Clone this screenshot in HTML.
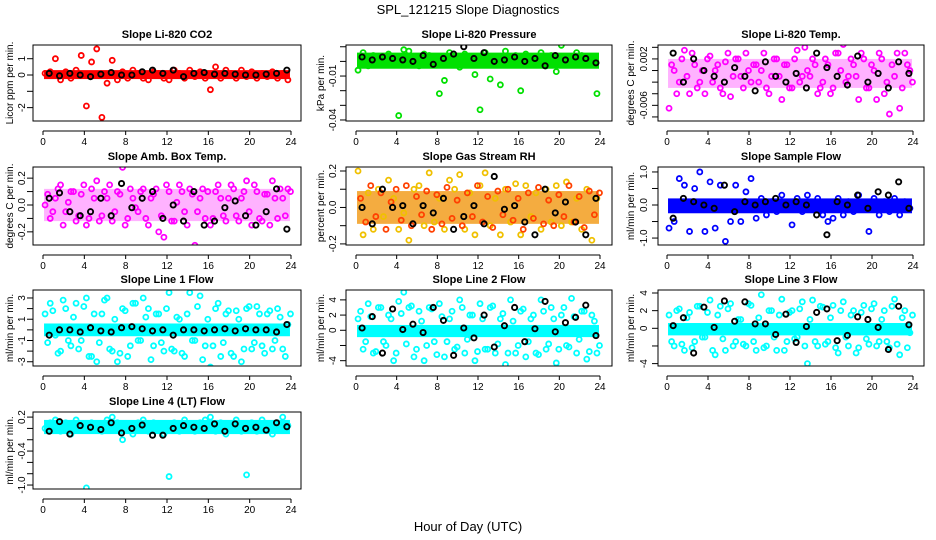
<!DOCTYPE html>
<html><head><meta charset="utf-8"><style>
html,body{margin:0;padding:0;background:#fff}
svg{display:block;font-family:"Liberation Sans",sans-serif}
</style></head><body>
<svg id="chart" width="936" height="540" viewBox="0 0 936 540">
<text x="468" y="14" text-anchor="middle" font-size="13">SPL_121215  Slope Diagnostics</text>
<text x="468" y="531" text-anchor="middle" font-size="13">Hour of Day (UTC)</text>
</svg>
<script>
const hoursC = [0.2,0.7,1.2,1.7,2.2,2.7,3.2,3.7,4.2,4.7,5.2,5.7,6.2,6.7,7.2,7.7,8.2,8.7,9.2,9.7,10.2,10.7,11.2,11.7,12.2,12.7,13.2,13.7,14.2,14.7,15.2,15.7,16.2,16.7,17.2,17.7,18.2,18.7,19.2,19.7,20.2,20.7,21.2,21.7,22.2,22.7,23.2,23.7];
const hoursC2 = [0.45,0.95,1.45,1.95,2.45,2.95,3.45,3.95,4.45,4.95,5.45,5.95,6.45,6.95,7.45,7.95,8.45,8.95,9.45,9.95,10.45,10.95,11.45,11.95,12.45,12.95,13.45,13.95,14.45,14.95,15.45,15.95,16.45,16.95,17.45,17.95,18.45,18.95,19.45,19.95,20.45,20.95,21.45,21.95,22.45,22.95,23.45,23.95];
const hoursK = [0.6,1.6,2.6,3.6,4.6,5.6,6.6,7.6,8.6,9.6,10.6,11.6,12.6,13.6,14.6,15.6,16.6,17.6,18.6,19.6,20.6,21.6,22.6,23.6];
const xTicks = [0,4,8,12,16,20,24];

const co2Vals = [0.1,0.2,1.0,-0.3,0.2,-0.2,0.3,1.2,-1.9,0.8,1.6,-2.6,-0.5,0.9,-0.3,0.2,-0.2,0.3,0.1,-0.2,-0.3,0.2,0.1,-0.2,-0.3,0.3,0.1,-0.2,0.3,-0.1,0.2,-0.2,-0.9,0.5,-0.2,0.3,0.1,-0.2,0.3,-0.1,0.2,-0.2,0.1,-0.1,0.2,-0.2,0.1,-0.3];
const co2Black = [0.1,-0.05,0.1,0.0,-0.1,0.05,0.15,0.0,0.0,0.2,0.3,0.1,0.3,-0.1,0.1,0.15,0.05,0.1,0.05,0.0,0.0,0.05,0.1,0.3];
const co2Band = [-0.25,0.3];

const presVals = [-0.006,0.006,-0.003,0.004,0.0,-0.002,0.005,0.003,-0.037,0.008,0.007,0.002,-0.003,0.005,0.004,0.0,-0.022,-0.013,0.006,0.002,-0.004,0.005,0.0,-0.009,-0.033,0.006,-0.012,0.003,-0.016,0.007,0.0,0.004,-0.020,0.005,-0.002,0.003,0.006,-0.003,0.004,-0.007,0.011,0.003,-0.002,0.006,0.004,0.001,0.003,-0.022];
const presBlack = [0.003,0.001,0.003,0.002,0.001,0.0,0.004,-0.002,0.002,0.005,0.010,0.002,0.006,0.0,0.001,0.003,0.0,0.002,-0.003,0.004,0.001,0.003,0.002,-0.001];
const presBand = [-0.005,0.006];

const tempVals = [-0.0065,0,-0.002,0.0035,-0.004,0.001,-0.002,-0.004,0.0025,0,-0.003,0.0015,-0.0045,0.002,-0.001,0.003,-0.002,0.001,0,-0.003,-0.001,0.002,-0.005,0.001,-0.003,0.0035,-0.001,0,0.002,-0.004,-0.002,0.001,-0.003,0.003,0.0045,-0.001,0.001,-0.005,0.002,-0.003,0,0.003,-0.004,-0.0075,-0.001,-0.0065,0.003,0];
const tempVals2 = [0.001,-0.004,0.002,-0.001,0.003,-0.003,0,0.002,-0.002,0.001,-0.004,0.003,-0.001,0.002,-0.003,0,0.001,-0.002,0.003,-0.004,0.002,-0.001,0.001,-0.003,0.002,-0.002,0.004,-0.001,0.001,-0.003,0.002,-0.004,0.003,0,-0.002,0.002,-0.001,0.003,-0.003,0.001,-0.005,0.002,-0.002,0.001,0.003,-0.003,0.001,-0.002];
const tempBlack = [0.003,-0.002,0.002,0,-0.001,-0.002,0.0005,-0.001,-0.0035,0.0015,-0.001,-0.002,-0.0005,-0.003,0.003,0.0005,-0.001,-0.0025,0.0025,-0.002,-0.0005,-0.003,0.0015,-0.0005];
const tempBand = [-0.003,0.002];

const ambVals = [0,-0.10,0.05,0.15,-0.05,0.10,-0.12,0.08,-0.15,0.12,0.18,-0.08,0.05,-0.12,0.10,0.28,-0.10,0.05,-0.05,0.12,-0.15,0.08,-0.20,-0.24,0.10,-0.12,0.15,-0.05,0.12,-0.30,0.05,-0.10,-0.15,0.10,0.05,-0.12,0.15,-0.08,0.05,0.18,-0.15,0.10,-0.12,0.08,0.18,-0.10,0.05,0.12];
const ambVals2 = [0.08,-0.05,0.12,-0.15,0.02,0.1,-0.08,0.15,-0.1,0.05,-0.12,0.1,0.15,-0.05,0.08,-0.15,0.12,-0.02,0.1,-0.1,0.05,0.12,-0.08,0.15,-0.12,0.02,0.1,-0.15,0.08,-0.05,0.12,0.1,-0.1,0.15,-0.08,0.05,0.12,-0.12,0.1,-0.05,0.15,-0.1,0.08,-0.15,0.05,0.12,-0.08,0.1];
const ambBlack = [0.05,0.09,-0.05,-0.08,-0.05,0.05,-0.08,0.16,-0.02,0.05,0.10,-0.10,0.0,-0.12,0.10,-0.15,-0.12,-0.02,0.03,-0.08,-0.15,-0.05,0.12,-0.18];
const ambBand = [-0.12,0.12];

const rhVals = [0.20,-0.15,0.08,-0.12,0.10,-0.05,0.15,0.05,-0.12,-0.03,-0.18,0.10,0.12,-0.10,0.19,-0.08,0.05,-0.12,0.15,0.10,0.18,-0.12,0.08,-0.15,0.12,0.19,-0.10,0.05,-0.15,0.10,-0.08,0.13,-0.15,0.12,-0.05,0.08,-0.12,0.10,-0.08,0.12,-0.10,0.14,-0.08,0.05,-0.12,0.10,-0.18,0.05];
const rhVals2 = [0.05,-0.08,0.12,-0.05,0.08,-0.12,0.03,0.1,-0.07,0.12,-0.1,0.06,-0.04,0.09,-0.12,0.07,-0.09,0.11,-0.06,0.04,-0.1,0.08,-0.05,0.12,-0.08,0.06,-0.11,0.09,-0.04,0.1,-0.07,0.05,-0.12,0.08,-0.06,0.11,-0.09,0.04,-0.1,0.07,-0.05,0.12,-0.08,0.06,-0.11,0.09,-0.04,0.08];
const rhBlack = [0.0,-0.09,0.10,0.0,0.01,-0.09,0.01,-0.03,0.05,-0.12,-0.05,0.01,-0.09,0.17,-0.01,0.01,-0.08,-0.15,0.10,-0.03,0.03,-0.08,-0.15,0.05];
const rhBand = [-0.09,0.09];

const sampVals = [-0.7,-0.5,0.8,0.6,-0.8,0.5,1.0,-0.8,0.7,-0.7,0.6,-1.1,-0.5,0.6,-0.5,0.4,0.8,-0.4,0.2,-0.3,0.1,-0.2,0.3,-0.1,-0.6,0.2,-0.2,0.3,-0.1,0.2,-0.3,-0.5,-0.4,0.2,-0.3,0.1,-0.2,0.3,-0.1,-0.8,0.2,-0.3,0.1,-0.2,0.2,-0.3,0.1,-0.1];
const sampBlack = [-0.4,0.2,0.1,0.0,-0.1,0.6,-0.2,0.1,0.0,0.1,0.2,0.0,0.1,0.0,-0.3,-0.9,0.1,0.0,0.3,-0.1,0.4,0.3,0.7,-0.1];
const sampBand = [-0.25,0.2];

const l1Vals = [1.5,2.5,-0.5,-2,2,-1.5,2.5,-1,3,-2.5,-3,1.5,3,-2,-3,2,-2.5,2.5,-1,3,2,-1.5,1.5,-2,3.5,-2,1,-2.5,3.5,-1,3.2,-1.5,-3.5,2,-2.5,1.5,-2.2,1.8,-3,2,-1.8,2.2,-1.5,1.5,-1.8,2,-1.8,0.5];
const l1Vals2 = [-1.2,1.8,-2.2,2.8,-1,1.2,-1.8,2.2,-2.5,1.5,-1.2,2.8,-1.8,1,-2.2,1.8,-1.5,2.5,-1,1.2,-2.8,1.5,-1.2,2,-1.8,1.2,-2.2,1.5,-1,2.2,-2.8,1,-1.5,2.5,-1.2,1.8,-2.5,1,-1.8,2.2,-1.2,1.5,-2.2,1.8,-1,1.2,-2.5,1.5];
const l1Black = [-0.5,0,0,-0.2,0.2,-0.1,-0.2,0.2,0.3,0.1,-0.1,0,-0.5,0,0,-0.1,0,0.1,-0.1,0.1,0,0,-0.2,0.5];
const l1Band = [-0.6,0.6];

const l2Vals = [1.5,-2.5,3.5,-3,3,-1.5,2,-4,3.8,5,3,-3.5,2.5,-4,3,-1.5,3.5,-3.5,1.5,-2.5,4,-3,2,-4,3.5,-2.5,3,-3,1.5,-4.5,4,-3,2.5,-3.5,1.5,-3,4,-2.5,3,-4.3,2,-2,4.2,-3,2.5,-3.8,2,-3];
const l2Vals2 = [2.5,-1.5,1.8,-2.8,3,-2,1.5,-3,2.2,-1.8,3.2,-2.5,1.2,-2,2.8,-3.2,1.8,-1.5,2.5,-2.2,3,-1.2,2,-2.8,1.5,-2.5,3.2,-1.8,2.2,-3,1.2,-2,2.8,-1.5,2,-3.2,2.5,-1.8,1.5,-2.5,3,-2.2,1.8,-1.2,2.5,-2.8,1.2,-2];
const l2Black = [0.3,1.8,-3,2.8,0.1,0.8,-0.3,3,1.3,-3.3,0.3,-1,2,-2.2,0.6,3,-1.5,0.2,3.8,-0.2,1,1.7,3.3,-0.7];
const l2Band = [-0.9,0.7];

const l3Vals = [1.5,-2,2.2,-2.5,1.8,-1.5,2.5,-1,3.2,-3,2.5,-2.5,2.8,-1.5,1,-2,2.6,-2.5,3.8,-2,2,-2.5,3.3,-1.5,2,-1,3,-4,3.2,-2,2.4,-1.5,2.6,-2.8,3,-2,2,-2.2,2.6,-1.8,2.8,-1.5,2,-2.2,3.3,-3,2,-0.5];
const l3Vals2 = [-1.5,2,-1.8,1.2,-2.2,2.5,-1,1.8,-2.5,1.5,-1.2,2.2,-2,1,-1.8,2.8,-1.5,1.2,-2.2,2,-1,1.5,-2.5,1.8,-1.2,2.2,-2,1,-1.5,2.5,-1.8,1.2,-2.2,2,-1,1.5,-2.8,1.8,-1.2,2.2,-2,1,-1.5,2.5,-1.8,1.2,-2.2,1.5];
const l3Black = [0.3,1.2,-2.8,2.4,0.1,3.1,0.8,3,0.5,0.5,-0.7,1.6,-1.6,0.2,1.8,2.2,-1.4,-0.8,1.3,1,0.1,-2.4,2.5,0.4];
const l3Band = [-0.8,0.6];

const l4Vals = [0,0.1,0.15,-0.05,0.1,-0.1,0.15,0.05,-1.05,0.1,0.05,-0.05,0.15,0.2,0.1,-0.2,0.05,-0.1,0.1,0.15,-0.05,0.1,0.05,-0.1,-0.85,0.1,-0.05,0.15,0.05,-0.05,0.1,0.15,0.2,-0.05,0.1,-0.1,0.05,0.15,-0.05,-0.82,0.1,-0.05,0.15,0.05,-0.1,0.1,0.2,0.05];
const l4Black = [-0.05,0.12,-0.1,0.05,0.02,-0.02,0.1,-0.08,0.0,0.06,-0.12,-0.12,0.0,0.05,0.02,0.0,0.08,-0.05,0.08,0.0,0.02,-0.03,0.1,0.03];
const l4Band = [-0.1,0.15];

const co2Ticks = [1,0,-1,-2], co2Labels = ["1","0","","-2"];
const presTicks = [0.01,0,-0.01,-0.02,-0.03,-0.04], presLabels = ["","","-0.01","","","-0.04"];
const tempTicks = [0.004,0.002,0,-0.002,-0.004,-0.006,-0.008], tempLabels = ["","0.002","","","","-0.006",""];
const ambTicks = [0.2,0.1,0,-0.1,-0.2], ambLabels = ["0.2","","0.0","","-0.2"];
const rhTicks = [0.2,0.1,0,-0.1,-0.2], rhLabels = ["0.2","","0.0","","-0.2"];
const sampTicks = [1,0.5,0,-0.5,-1], sampLabels = ["1.0","","0.0","","-1.0"];
const l1Ticks = [3,2,1,0,-1,-2,-3], l1Labels = ["3","","1","","-1","","-3"];
const l2Ticks = [4,2,0,-2,-4], l2Labels = ["4","2","0","","-4"];
const l3Ticks = [4,2,0,-2,-4], l3Labels = ["4","2","0","","-4"];
const l4Ticks = [0.2,0,-0.2,-0.4,-0.6,-0.8,-1.0], l4Labels = ["0.2","","","-0.4","","","-1.0"];

const NS = "http://www.w3.org/2000/svg";
const svg = document.getElementById("chart");
const cols = [{l:33,r:301,x0:43,x24:291,lab:21,tit:9},{l:346,r:612,x0:356,x24:600,lab:332,tit:320},{l:658,r:924,x0:667,x24:913,lab:643,tit:630}];
const rows = [{t:45,b:121},{t:167,b:245},{t:290,b:366},{t:412,b:489}];

function mk(tag, attrs, parent){
  const e = document.createElementNS(NS, tag);
  for (const k in attrs) e.setAttribute(k, attrs[k]);
  (parent||svg).appendChild(e);
  return e;
}

const panels = [
 {name:"co2",title:"Slope Li-820 CO2",ylab:"Licor ppm per min.",c:0,r:0,ymin:-2.82,ymax:1.84,vals:co2Vals,vals2:null,blk:co2Black,band:co2Band,col:"#ff0000",col2:"#ff0000",bandCol:"#ff0000",bandOp:1,ticks:co2Ticks,labels:co2Labels},
 {name:"pressure",title:"Slope Li-820 Pressure",ylab:"kPa per min.",c:1,r:0,ymin:-0.0407,ymax:0.0112,vals:presVals,vals2:null,blk:presBlack,band:presBand,col:"#00e000",col2:"#00e000",bandCol:"#00e000",bandOp:1,ticks:presTicks,labels:presLabels},
 {name:"temp",title:"Slope Li-820 Temp.",ylab:"degrees C per min.",c:2,r:0,ymin:-0.0087,ymax:0.0044,vals:tempVals,vals2:tempVals2,blk:tempBlack,band:tempBand,col:"#ff00ff",col2:"#ff00ff",bandCol:"#ff00ff",bandOp:0.3,ticks:tempTicks,labels:tempLabels},
 {name:"amb-box-temp",title:"Slope Amb. Box Temp.",ylab:"degrees C per min.",c:0,r:1,ymin:-0.298,ymax:0.283,vals:ambVals,vals2:ambVals2,blk:ambBlack,band:ambBand,col:"#ff00ff",col2:"#ff00ff",bandCol:"#ff00ff",bandOp:0.3,ticks:ambTicks,labels:ambLabels},
 {name:"gas-rh",title:"Slope Gas Stream RH",ylab:"percent per min.",c:1,r:1,ymin:-0.206,ymax:0.222,vals:rhVals,vals2:rhVals2,blk:rhBlack,band:rhBand,col:"#f0c000",col2:"#ff4000",bandCol:"#f09000",bandOp:0.75,ticks:rhTicks,labels:rhLabels},
 {name:"sample-flow",title:"Slope Sample Flow",ylab:"ml/min per min.",c:2,r:1,ymin:-1.21,ymax:1.15,vals:sampVals,vals2:null,blk:sampBlack,band:sampBand,col:"#0000ff",col2:"#0000ff",bandCol:"#0000ff",bandOp:1,ticks:sampTicks,labels:sampLabels},
 {name:"line1-flow",title:"Slope Line 1 Flow",ylab:"ml/min per min.",c:0,r:2,ymin:-3.4,ymax:3.75,vals:l1Vals,vals2:l1Vals2,blk:l1Black,band:l1Band,col:"#00ffff",col2:"#00ffff",bandCol:"#00ffff",bandOp:1,ticks:l1Ticks,labels:l1Labels},
 {name:"line2-flow",title:"Slope Line 2 Flow",ylab:"ml/min per min.",c:1,r:2,ymin:-4.7,ymax:5.3,vals:l2Vals,vals2:l2Vals2,blk:l2Black,band:l2Band,col:"#00ffff",col2:"#00ffff",bandCol:"#00ffff",bandOp:1,ticks:l2Ticks,labels:l2Labels},
 {name:"line3-flow",title:"Slope Line 3 Flow",ylab:"ml/min per min.",c:2,r:2,ymin:-4.27,ymax:4.34,vals:l3Vals,vals2:l3Vals2,blk:l3Black,band:l3Band,col:"#00ffff",col2:"#00ffff",bandCol:"#00ffff",bandOp:1,ticks:l3Ticks,labels:l3Labels},
 {name:"line4-flow",title:"Slope Line 4 (LT) Flow",ylab:"ml/min per min.",c:0,r:3,ymin:-1.07,ymax:0.29,vals:l4Vals,vals2:null,blk:l4Black,band:l4Band,col:"#00ffff",col2:"#00ffff",bandCol:"#00ffff",bandOp:1,ticks:l4Ticks,labels:l4Labels}
];

panels.forEach(p => {
  const C = cols[p.c], R = rows[p.r];
  const xs = h => C.x0 + (C.x24 - C.x0) * h / 24;
  const ys = v => R.b - (R.b - R.t) * (v - p.ymin) / (p.ymax - p.ymin);
  const g = mk("g", {});
  
  
  const clipId = "clip-" + p.name;
  const cp = mk("clipPath", {id: clipId}, g);
  mk("rect", {x: C.l, y: R.t, width: C.r - C.l, height: R.b - R.t}, cp);
  const t = mk("text", {x: (C.l + C.r) / 2, y: R.t - 7, "text-anchor": "middle", "font-size": "11", "font-weight": "bold"}, g);
  t.textContent = p.title;
  
  
  const yl = mk("text", {transform: "translate(" + C.tit + "," + ((R.t + R.b) / 2) + ") rotate(-90)", "text-anchor": "middle", "font-size": "10", dy: "4"}, g);
  yl.textContent = p.ylab;
  
  
  const data = mk("g", {"clip-path": "url(#" + clipId + ")"}, g);
  const band = mk("rect", {x: xs(0.1), y: ys(p.band[1]), width: xs(23.9) - xs(0.1), height: ys(p.band[0]) - ys(p.band[1]), fill: p.bandCol, "fill-opacity": p.bandOp}, data);
  
  
  p.vals.forEach((v, i) => {
    const c = mk("circle", {cx: xs(hoursC[i]), cy: ys(v), r: 2.5, fill: "none", stroke: p.col, "stroke-width": 1.8}, data);
    
    
  });
  if (p.vals2) p.vals2.forEach((v, i) => {
    const c = mk("circle", {cx: xs(hoursC2[i]), cy: ys(v), r: 2.5, fill: "none", stroke: p.col2, "stroke-width": 1.8}, data);
    
    
  });
  p.blk.forEach((v, i) => {
    const c = mk("circle", {cx: xs(hoursK[i]), cy: ys(v), r: 2.6, fill: "none", stroke: "#000", "stroke-width": 1.9}, data);
    
    
  });
  const box = mk("rect", {x: C.l, y: R.t, width: C.r - C.l, height: R.b - R.t, fill: "none", stroke: "#000", "stroke-width": 1}, g);
  
  
  const ay = R.b + 10;
  mk("line", {x1: xs(0), x2: xs(24), y1: ay, y2: ay, stroke: "#000"}, g);
  xTicks.forEach(h => {
    mk("line", {x1: xs(h), x2: xs(h), y1: ay, y2: ay + 4, stroke: "#000"}, g);
    const tl = mk("text", {x: xs(h), y: R.b + 24, "text-anchor": "middle", "font-size": "10"}, g);
    tl.textContent = h;
    
    
  });
  p.ticks.forEach((v, i) => {
    mk("line", {x1: C.l - 6, x2: C.l, y1: ys(v), y2: ys(v), stroke: "#000"}, g);
    if (p.labels[i]) {
      const tl = mk("text", {transform: "translate(" + C.lab + "," + ys(v) + ") rotate(-90)", "text-anchor": "middle", "font-size": "10", dy: "4"}, g);
      tl.textContent = p.labels[i];
      
      
    }
  });
});
</script>
</body></html>
